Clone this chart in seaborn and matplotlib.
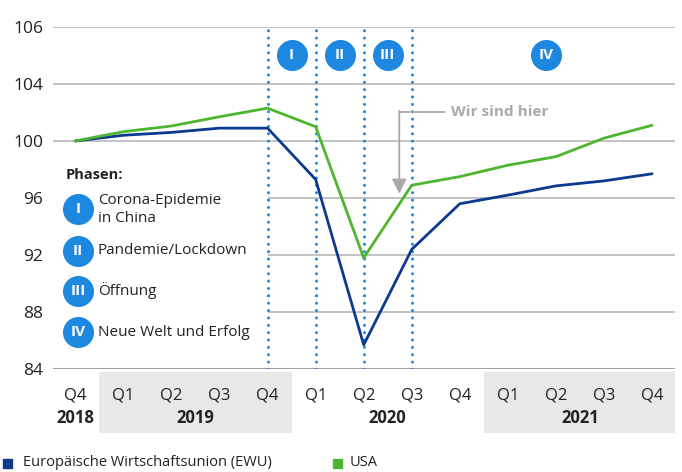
import seaborn as sns
import matplotlib.pyplot as plt
import matplotlib.transforms as mtransforms
from matplotlib.patches import Rectangle
import pandas as pd

# quarters Q4 2018 .. Q4 2021
quarters = ['Q4', 'Q1', 'Q2', 'Q3', 'Q4', 'Q1', 'Q2', 'Q3', 'Q4', 'Q1', 'Q2', 'Q3', 'Q4']
years = ['2018', '2019', '2020', '2021']
ewu = [100.0, 100.4, 100.6, 100.9, 100.9, 97.3, 85.7, 92.4, 95.6, 96.2, 96.85, 97.2, 97.7]
usa = [100.0, 100.65, 101.05, 101.7, 102.3, 101.0, 91.8, 96.9, 97.5, 98.3, 98.9, 100.2, 101.1]
series_names = ['Europäische Wirtschaftsunion (EWU)', 'USA']

# y axis ticks as printed in the source (top label reads 106)
ytick_pos = [84, 88, 92, 96, 100, 104, 108]
ytick_labels = ['84', '88', '92', '96', '100', '104', '106']

phases = ['I', 'II', 'III', 'IV']
phase_text = ['Corona-Epidemie\nin China', 'Pandemie/Lockdown', 'Öffnung', 'Neue Welt und Erfolg']

navy = '#0b3a8e'
green = '#4db52f'
dot_blue = '#1e88e0'
grid_col = '#b9b9b9'

sns.set_theme(style='white')
plt.rcParams['font.family'] = ['Open Sans', 'DejaVu Sans']

df = pd.DataFrame({
    'idx': list(range(len(quarters))) * 2,
    'value': ewu + usa,
    'series': [series_names[0]] * len(ewu) + [series_names[1]] * len(usa),
})

fig = plt.figure(figsize=(6.82, 4.72), dpi=100)
ax = fig.add_axes([0.078, 0.218, 0.912, 0.725])

# grid lines (the middle ones start at the first phase line)
for v in ytick_pos:
    if v in (88, 92, 96):
        ax.hlines(v, 4, 12.48, color=grid_col, lw=1.2, zorder=1)
    elif v == 84:
        ax.axhline(v, color='#a0a0a0', lw=1.5, zorder=1)
    else:
        ax.axhline(v, color=grid_col, lw=1.2, zorder=1)

sns.lineplot(data=df, x='idx', y='value', hue='series', palette=[navy, green],
             linewidth=2.0, legend=False, ax=ax, zorder=3)

# phase separators
for xi in [4, 5, 6, 7]:
    ax.plot([xi, xi], [84, 108], color=dot_blue, lw=2.2, linestyle=(0, (0.01, 2.4)),
            dash_capstyle='round', zorder=2)

# phase circles at the top
phase_x = [4.5, 5.5, 6.5, 9.8]
for px, lab in zip(phase_x, phases):
    ax.scatter(px, 106, s=500, color=dot_blue, zorder=4, linewidths=0)
    ax.text(px, 106, lab, color='white', ha='center', va='center', fontsize=11,
            fontweight='bold', zorder=5)

# phase legend on the left
ax.text(-0.21, 97.6, 'Phasen:', fontsize=10.5, fontweight='bold', va='center', color='#222222')
leg_y = [95.2, 92.3, 89.5, 86.6]
for y, lab, txt in zip(leg_y, phases, phase_text):
    ax.scatter(0.06, y, s=500, color=dot_blue, zorder=4, linewidths=0)
    ax.text(0.06, y, lab, color='white', ha='center', va='center', fontsize=11,
            fontweight='bold', zorder=5)
    ax.text(0.47, y, txt, fontsize=11, va='center', color='#222222', linespacing=1.25)

# annotation "Wir sind hier"
gray = '#a9a9a9'
ax.plot([6.74, 7.7], [102.05, 102.05], color=gray, lw=1.3, zorder=2)
ax.annotate('', xy=(6.74, 96.3), xytext=(6.74, 102.1),
            arrowprops=dict(arrowstyle='-|>', color=gray, lw=1.3, mutation_scale=22,
                            shrinkA=0, shrinkB=0), zorder=2)
ax.text(7.82, 102.05, 'Wir sind hier', color=gray, fontsize=11, fontweight='bold', va='center')

ax.set_xlim(-0.46, 12.48)
ax.set_ylim(84, 108)
ax.set_yticks(ytick_pos)
ax.set_yticklabels(ytick_labels, fontsize=12.5, color='#222222')
ax.tick_params(axis='y', length=0, pad=7)
ax.set_xticks([])
ax.set_xlabel('')
ax.set_ylabel('')
sns.despine(ax=ax, left=True, bottom=True)

# x axis: shaded year blocks and labels below the plot
trans = mtransforms.blended_transform_factory(ax.transData, ax.transAxes)
ax.add_patch(Rectangle((0.5, -0.187), 4.0, 0.178, transform=trans, color='#e8e8e8',
                       clip_on=False, zorder=0, lw=0))
ax.add_patch(Rectangle((8.5, -0.187), 3.98, 0.178, transform=trans, color='#e8e8e8',
                       clip_on=False, zorder=0, lw=0))
for i, q in enumerate(quarters):
    ax.text(i, -0.076, q, transform=trans, ha='center', va='center', fontsize=12,
            color='#222222')
year_x = [0, 2.5, 6.5, 10.5]
for x, yr in zip(year_x, years):
    ax.text(x, -0.143, yr, transform=trans, ha='center', va='center', fontsize=12,
            fontweight='bold', color='#222222')

# series legend at the bottom
fig.patches.append(Rectangle((3 / 682, 1 - 468 / 472), 9 / 682, 9 / 472,
                             transform=fig.transFigure, color=navy, figure=fig))
fig.text(23 / 682, 1 - 463 / 472, series_names[0], fontsize=10.5, va='center', color='#222222')
fig.patches.append(Rectangle((333 / 682, 1 - 468 / 472), 9 / 682, 9 / 472,
                             transform=fig.transFigure, color=green, figure=fig))
fig.text(350 / 682, 1 - 463 / 472, series_names[1], fontsize=10.5, va='center', color='#222222')

fig.savefig('out.png', dpi=100)
